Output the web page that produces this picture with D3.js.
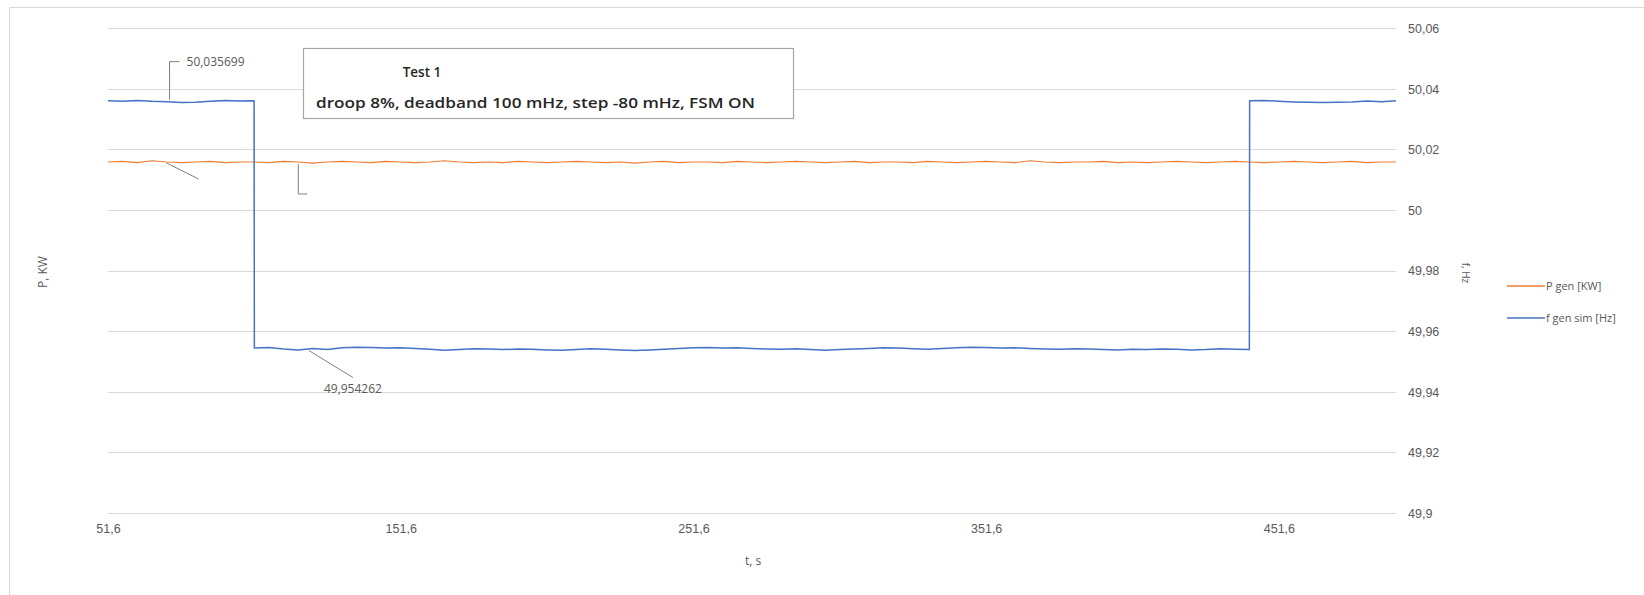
<!DOCTYPE html>
<html>
<head>
<meta charset="utf-8">
<script src="https://cdn.jsdelivr.net/npm/d3@7"></script>
<style>
  html, body { margin: 0; padding: 0; background: #ffffff; }
  svg { display: block; font-family: "Open Sans", "Noto Sans", sans-serif; }
</style>
</head>
<body>
<svg id="chart" width="1644" height="595"></svg>
<script>
// Sample times of the generator power record, s
const pTime = [
  51.6, 56.6, 61.6, 66.6, 71.6, 76.6, 81.6, 86.6, 91.6, 96.6,
  101.6, 106.6, 111.6, 116.6, 121.6, 126.6, 131.6, 136.6, 141.6, 146.6,
  151.6, 156.6, 161.6, 166.6, 171.6, 176.6, 181.6, 186.6, 191.6, 196.6,
  201.6, 206.6, 211.6, 216.6, 221.6, 226.6, 231.6, 236.6, 241.6, 246.6,
  251.6, 256.6, 261.6, 266.6, 271.6, 276.6, 281.6, 286.6, 291.6, 296.6,
  301.6, 306.6, 311.6, 316.6, 321.6, 326.6, 331.6, 336.6, 341.6, 346.6,
  351.6, 356.6, 361.6, 366.6, 371.6, 376.6, 381.6, 386.6, 391.6, 396.6,
  401.6, 406.6, 411.6, 416.6, 421.6, 426.6, 431.6, 436.6, 441.6, 446.6,
  451.6, 456.6, 461.6, 466.6, 471.6, 476.6, 481.6, 486.6, 491.6
];
// Generator power, kW (primary axis)
const pGen = [
  57.9, 58.0, 57.8, 58.1, 57.9, 57.8, 57.9, 58.0, 57.8, 57.9,
  57.9, 57.8, 58.0, 57.9, 57.7, 57.9, 58.0, 57.9, 57.8, 58.0,
  57.9, 57.8, 57.9, 58.1, 57.9, 57.8, 57.9, 57.8, 58.0, 57.9,
  57.8, 57.9, 58.0, 57.9, 57.8, 57.9, 57.7, 57.9, 58.0, 57.8,
  57.9, 57.9, 57.8, 58.0, 57.9, 57.8, 57.9, 58.0, 57.9, 57.8,
  57.9, 58.0, 57.8, 57.9, 57.9, 57.8, 58.0, 57.9, 57.8, 57.9,
  58.0, 57.9, 57.8, 58.1, 57.9, 57.8, 57.9, 57.9, 58.0, 57.8,
  57.9, 57.8, 57.9, 58.0, 57.9, 57.8, 57.9, 58.0, 57.9, 57.8,
  57.9, 58.0, 57.9, 57.8, 57.9, 58.0, 57.8, 57.9, 57.9
];
// Sample times of the simulated frequency record, s (both step edges included)
const fTime = [
  51.6, 56.6, 61.6, 66.6, 71.6, 76.6, 81.6, 86.6, 91.6, 96.6,
  101.5, 101.6, 106.6, 111.6, 116.6, 121.6, 126.6, 131.6, 136.6, 141.6, 146.6,
  151.6, 156.6, 161.6, 166.6, 171.6, 176.6, 181.6, 186.6, 191.6, 196.6,
  201.6, 206.6, 211.6, 216.6, 221.6, 226.6, 231.6, 236.6, 241.6, 246.6,
  251.6, 256.6, 261.6, 266.6, 271.6, 276.6, 281.6, 286.6, 291.6, 296.6,
  301.6, 306.6, 311.6, 316.6, 321.6, 326.6, 331.6, 336.6, 341.6, 346.6,
  351.6, 356.6, 361.6, 366.6, 371.6, 376.6, 381.6, 386.6, 391.6, 396.6,
  401.6, 406.6, 411.6, 416.6, 421.6, 426.6, 431.6, 436.6,
  441.5, 441.6, 446.6,
  451.6, 456.6, 461.6, 466.6, 471.6, 476.6, 481.6, 486.6, 491.6
];
// Simulated generator frequency, Hz (secondary axis)
const fGen = [
  50.0360, 50.0358, 50.0361, 50.0358, 50.035699, 50.0354, 50.0355, 50.0358, 50.0361, 50.0359,
  50.0360, 49.9544, 49.9546, 49.9541, 49.9538, 49.954262, 49.9539, 49.9545, 49.9547, 49.9546, 49.9544,
  49.9545, 49.9543, 49.9540, 49.9537, 49.9539, 49.9542, 49.9541, 49.9539, 49.9541, 49.9540,
  49.9538, 49.9537, 49.9539, 49.9542, 49.9540, 49.9538, 49.9536, 49.9538, 49.9540, 49.9543,
  49.9545, 49.9546, 49.9544, 49.9545, 49.9543, 49.9541, 49.9540, 49.9542, 49.9539, 49.9537,
  49.9539, 49.9541, 49.9543, 49.9545, 49.9544, 49.9542, 49.9540, 49.9543, 49.9545, 49.9547,
  49.9546, 49.9544, 49.9545, 49.9543, 49.9541, 49.9540, 49.9542, 49.9541, 49.9539, 49.9538,
  49.9540, 49.9539, 49.9541, 49.9540, 49.9538, 49.9539, 49.9542, 49.9540,
  49.9539, 50.0360, 50.0361,
  50.0358, 50.0356, 50.0355, 50.0354, 50.0355, 50.0356, 50.0359, 50.0357, 50.0360
];

const timeTicks = [51.6, 151.6, 251.6, 351.6, 451.6];
const freqTicks = [50.06, 50.04, 50.02, 50, 49.98, 49.96, 49.94, 49.92, 49.9];
const timeDomain = [51.6, 491.6];
const freqDomain = [49.9, 50.06];
const powerDomain = [0, 80];

// Data labels on the frequency trace, and bare leader lines on the power trace
const fLabelTimes = [71.6, 121.6];
const pLeaderTimes = [71.6, 116.6];

const seriesNames = ["P gen [KW]", "f gen sim [Hz]"];
const seriesColors = ["#ed7d31", "#4472c4"];
const boxTitle = "Test 1";
const boxSubtitle = "droop 8%, deadband 100 mHz, step -80 mHz, FSM ON";

const svg = d3.select("#chart");
const m = { left: 108, right: 1396, top: 28, bottom: 513 };

const x = d3.scaleLinear().domain(timeDomain).range([m.left, m.right]);
const yF = d3.scaleLinear().domain(freqDomain).range([m.bottom, m.top]);
const yP = d3.scaleLinear().domain(powerDomain).range([m.bottom, m.top]);

const comma = v => String(+v.toFixed(6)).replace(".", ",");
const axisColor = "#595959";

// Chart frame
svg.append("rect")
  .attr("x", 9.5).attr("y", 7.5).attr("width", 1700).attr("height", 700)
  .attr("fill", "none").attr("stroke", "#d9d9d9");

// Horizontal gridlines at the frequency ticks
svg.append("g")
  .attr("stroke", "#d9d9d9").attr("stroke-width", 1)
  .selectAll("line").data(freqTicks).join("line")
  .attr("x1", m.left).attr("x2", m.right)
  .attr("y1", d => Math.round(yF(d)) + 0.5).attr("y2", d => Math.round(yF(d)) + 0.5);

// Secondary (right) axis labels
const rightAxis = d3.axisRight(yF).tickValues(freqTicks).tickFormat(comma).tickSize(0).tickPadding(0);
const gR = svg.append("g").attr("transform", `translate(${m.right + 12},0)`).call(rightAxis);
gR.select(".domain").remove();
gR.selectAll("text").attr("fill", axisColor).attr("font-size", 12.5).attr("dy", "0.35em");

// Time axis labels
const bottomAxis = d3.axisBottom(x).tickValues(timeTicks).tickFormat(comma).tickSize(0).tickPadding(0);
const gB = svg.append("g").attr("transform", `translate(0,${m.bottom + 16})`).call(bottomAxis);
gB.select(".domain").remove();
gB.selectAll("text").attr("fill", axisColor).attr("font-size", 12.5).attr("dy", "0.35em");

// Axis titles
svg.append("text").attr("x", 753).attr("y", 565).attr("text-anchor", "middle")
  .attr("font-size", 12).attr("fill", axisColor).text("t, s");
svg.append("text").attr("transform", "translate(47,272) rotate(-90)").attr("text-anchor", "middle")
  .attr("font-size", 12).attr("fill", axisColor).text("P, KW");
svg.append("text").attr("transform", "translate(1462,273) rotate(90)").attr("text-anchor", "middle")
  .attr("font-size", 10).attr("fill", axisColor).text("f, Hz");

// Series
const pData = pTime.map((t, i) => [t, pGen[i]]);
const fData = fTime.map((t, i) => [t, fGen[i]]);

svg.append("path").datum(pData)
  .attr("fill", "none").attr("stroke", seriesColors[0]).attr("stroke-width", 1.2)
  .attr("stroke-linejoin", "round")
  .attr("d", d3.line().x(d => x(d[0])).y(d => yP(d[1])));

svg.append("path").datum(fData)
  .attr("fill", "none").attr("stroke", seriesColors[1]).attr("stroke-width", 1.5)
  .attr("stroke-linejoin", "round")
  .attr("d", d3.line().x(d => x(d[0])).y(d => yF(d[1])));

// Leader lines on the power trace
const leader = svg.append("g").attr("fill", "none").attr("stroke", "#7f7f7f").attr("stroke-width", 1);
{
  const i0 = pTime.indexOf(pLeaderTimes[0]);
  const ax = x(pTime[i0]), ay = yP(pGen[i0]);
  leader.append("path").attr("d", `M${ax},${ay + 1}L${ax + 32},${ay + 17}`);
  const i1 = pTime.indexOf(pLeaderTimes[1]);
  const bx = x(pTime[i1]), by = yP(pGen[i1]);
  leader.append("path").attr("d", `M${bx},${by + 2}V${by + 32}H${bx + 9}`);
}

// Data labels on the frequency trace
{
  const i0 = fTime.indexOf(fLabelTimes[0]);
  const ax = x(fTime[i0]), ay = yF(fGen[i0]);
  leader.append("path").attr("d", `M${ax + 3},${ay - 2}V${ay - 40}H${ax + 13}`);
  svg.append("text").attr("x", ax + 20).attr("y", ay - 40).attr("dy", "0.35em")
    .attr("font-size", 12).attr("fill", axisColor).text(comma(fGen[i0]));

  const i1 = fTime.indexOf(fLabelTimes[1]);
  const bx = x(fTime[i1]), by = yF(fGen[i1]);
  leader.append("path").attr("d", `M${bx - 4},${by + 2}L${bx + 40},${by + 29}`);
  svg.append("text").attr("x", bx + 40).attr("y", by + 40).attr("dy", "0.35em")
    .attr("text-anchor", "middle").attr("font-size", 12).attr("fill", axisColor).text(comma(fGen[i1]));
}

// Test description box
svg.append("rect").attr("x", 303.5).attr("y", 48.5).attr("width", 490).attr("height", 70)
  .attr("fill", "#ffffff").attr("stroke", "#a6a6a6").attr("stroke-width", 1.2);
svg.append("text").attr("x", 422).attr("y", 77).attr("text-anchor", "middle")
  .attr("font-size", 13.5).attr("font-weight", 600).attr("fill", "#262626").text(boxTitle);
svg.append("text").attr("x", 316).attr("y", 108)
  .attr("font-size", 13.5).attr("font-weight", 600).attr("fill", "#262626")
  .attr("textLength", 439).attr("lengthAdjust", "spacingAndGlyphs").text(boxSubtitle);

// Legend
const legend = svg.append("g").selectAll("g").data(seriesNames).join("g")
  .attr("transform", (d, i) => `translate(1507,${286 + i * 32})`);
legend.append("line").attr("x1", 0).attr("x2", 38).attr("y1", 0).attr("y2", 0)
  .attr("stroke", (d, i) => seriesColors[i]).attr("stroke-width", 1.5);
legend.append("text").attr("x", 39).attr("y", 0).attr("dy", "0.35em")
  .attr("font-size", 11).attr("fill", axisColor).text(d => d);
</script>
</body>
</html>
